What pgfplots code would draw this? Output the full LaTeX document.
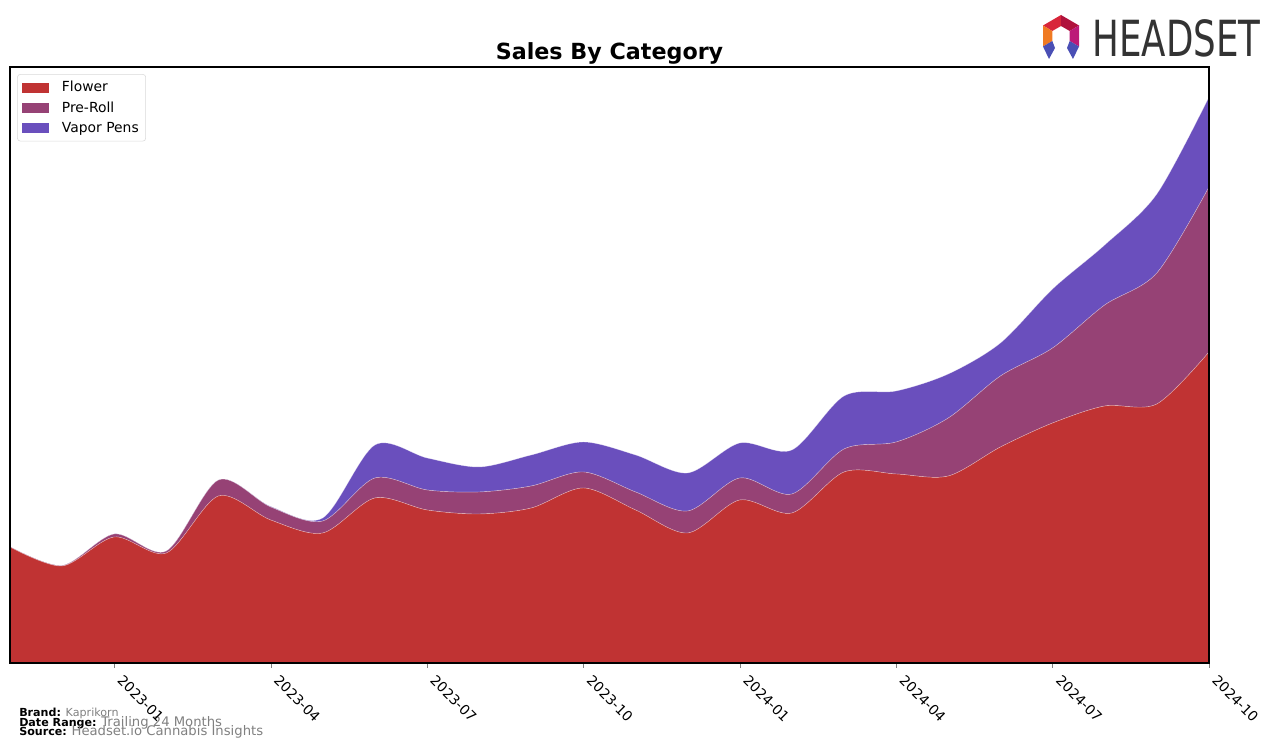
\documentclass[border=0pt]{standalone}
\usepackage{fontspec}
\setmainfont{DejaVu Sans}
\usepackage{graphicx}
\usepackage{pgfplots}
\pgfplotsset{compat=1.18}
\definecolor{flower}{HTML}{C03333}
\definecolor{preroll}{HTML}{964275}
\definecolor{vapor}{HTML}{6A4FBD}
\definecolor{footgray}{HTML}{808080}
\definecolor{logoA}{HTML}{D8263A}
\definecolor{logoB}{HTML}{B0123C}
\definecolor{logoC}{HTML}{F07A22}
\definecolor{logoD}{HTML}{BC1A78}
\definecolor{logoE}{HTML}{4A4FB5}
\begin{document}
\begin{tikzpicture}
\begin{scope}[shift={(-7.2pt,477.36pt)},x=0.72pt,y=-0.72pt]
\useasboundingbox (0,0) rectangle (1276,748);
% title
\node[font=\fontsize{16}{19}\selectfont\bfseries] at (609.5,53) {Sales By Category};
% logo icon
\fill[logoA] (1061,15) -- (1043,25.5) -- (1052.3,31) -- (1061,26) -- cycle;
\fill[logoB] (1061,15) -- (1079,25.5) -- (1069.7,31) -- (1061,26) -- cycle;
\fill[logoC] (1043,25.5) -- (1043,46.5) -- (1052.3,41) -- (1052.3,31) -- cycle;
\fill[logoD] (1079,25.5) -- (1079,46.5) -- (1069.7,41) -- (1069.7,31) -- cycle;
\fill[logoE] (1043,46.5) -- (1052.3,41) -- (1055,48) -- (1049,59) -- cycle;
\fill[logoE] (1079,46.5) -- (1069.7,41) -- (1067,48) -- (1073,59) -- cycle;
\node[anchor=south west,inner sep=0pt,text=black!80] at (1092,57) {\resizebox{121pt}{26.6pt}{HEADSET}};
% footer
\node[anchor=base west,inner sep=0pt,font=\fontsize{8}{9}\selectfont] at (19,716) {\textbf{Brand:} \textcolor{footgray}{Kaprikorn}};
\node[anchor=base west,inner sep=0pt,font=\fontsize{8}{9}\selectfont] at (19,726) {\textbf{Date Range:} \textcolor{footgray}{\fontsize{9.5}{10}\selectfont Trailing 24 Months}};
\node[anchor=base west,inner sep=0pt,font=\fontsize{8}{9}\selectfont] at (19,735) {\textbf{Source:} \textcolor{footgray}{\fontsize{9.5}{10}\selectfont Headset.io Cannabis Insights}};
\end{scope}
\begin{axis}[
  at={(0,0)}, anchor=south west,
  scale only axis,
  width=863.28pt, height=429.12pt,
  xmin=0, xmax=23, ymin=0, ymax=596,
  stack plots=y,
  axis on top=true,
  xtick={2,5,8,11,14,17,20,23},
  xticklabels={2023-01,2023-04,2023-07,2023-10,2024-01,2024-04,2024-07,2024-10},
  xtick pos=bottom,
  tick align=outside,
  major tick length=3.5pt,
  ytick=\empty,
  xticklabel style={xshift=7pt, yshift=-3pt, rotate=-45, anchor=north west, font=\fontsize{10}{12}\selectfont, inner sep=1pt},
  axis line style={line width=0.8pt},
  legend style={at={(0.006,0.988)}, anchor=north west, draw=black!15, rounded corners=2pt,
    font=\fontsize{10}{12}\selectfont, row sep=1.5pt, inner xsep=3pt, inner ysep=3pt,
    /tikz/every odd column/.append style={column sep=7pt}},
  legend cell align=left,
  legend image code/.code={\fill[#1,draw=none,sharp corners] (0pt,-3.6pt) rectangle (20pt,3.6pt);},
  every axis plot/.append style={line width=0.3pt, draw=white, draw opacity=0.45},
]
\addplot[fill=flower, smooth] coordinates {
(0,116) (1,97) (2,126) (3,110) (4,167) (5,143) (6,130) (7,165) (8,153) (9,149) (10,155) (11,175)
(12,153) (13,130) (14,163) (15,150) (16,191) (17,189) (18,187) (19,216) (20,240) (21,257) (22,259) (23,311)
} \closedcycle;
\addlegendentry{Flower}
\addplot[fill=preroll, smooth] coordinates {
(0,0.3) (1,0.5) (2,3) (3,2) (4,16) (5,13) (6,12) (7,20) (8,20) (9,22) (10,22) (11,16)
(12,18) (13,22) (14,22) (15,19) (16,23) (17,32) (18,58) (19,71) (20,75) (21,101) (22,131) (23,165)
} \closedcycle;
\addlegendentry{Pre-Roll}
\addplot[fill=vapor, smooth] coordinates {
(0,0) (1,0) (2,0) (3,0) (4,0) (5,0.5) (6,3) (7,33) (8,32) (9,25) (10,31) (11,30)
(12,37) (13,38) (14,35) (15,44) (16,53) (17,51) (18,44) (19,33) (20,59) (21,60) (22,79) (23,90)
} \closedcycle;
\addlegendentry{Vapor Pens}
\end{axis}
\end{tikzpicture}
\end{document}
